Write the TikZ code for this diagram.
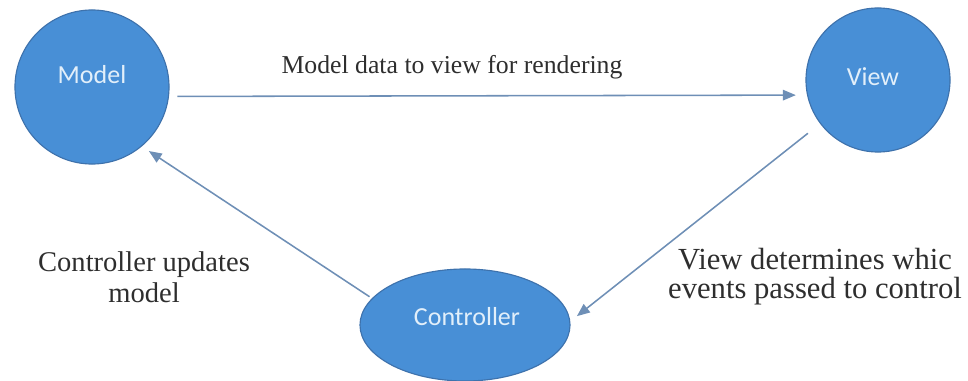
\documentclass[tikz,border=0pt]{standalone}
\usepackage{fontspec}
\setmainfont{Liberation Serif}
\newfontfamily\partfont{Carlito}
\usetikzlibrary{arrows}
\usetikzlibrary{shapes.geometric}
\definecolor{mvcblue}{RGB}{72,143,214}
\definecolor{mvcedge}{RGB}{62,114,172}
\definecolor{mvcline}{RGB}{110,143,182}
\definecolor{mvctext}{RGB}{226,239,250}
\tikzstyle{part}=[draw=mvcedge, fill=mvcblue, line width=.8pt, inner sep=0pt]
\tikzstyle{tag}=[text=mvctext, font=\partfont\fontsize{18.5}{20}\selectfont]
\tikzstyle{flow}=[draw=mvcline, line width=1.1pt, -triangle 45]
\tikzstyle{note}=[text=black!82, align=center, inner sep=0pt]

\begin{document}
\begin{tikzpicture}[x=0.025cm, y=-0.025cm]
    \useasboundingbox (0,0) rectangle (968,381);

    % the three parts
    \node[part, circle, minimum size=3.85cm] (model) at (92,87) {};
    \node[part, circle, minimum size=3.6cm] (view) at (878,80) {};
    \node[part, ellipse, minimum width=5.25cm, minimum height=2.8cm] (controller) at (465,325) {};
    \node[tag] (modeltag) at (92,75) {Model};
    \node[tag] (viewtag) at (873,77) {View};
    \node[tag] (controllertag) at (467,317) {Controller};

    % connectors
    \draw[flow, shorten <=6pt, shorten >=8pt] (model.-7) -- (view.-168);
    \draw[flow, shorten <=2pt, shorten >=6pt] (controller.164) -- (model.-50);
    \draw[flow, shorten <=11pt, shorten >=6pt] (view.-143) -- (controller.2);

    % texts
    \node[note, font=\fontsize{18.3}{21}\selectfont] (rendertxt) at (452,67) {Model data to view for rendering};
    \node[note, font=\fontsize{20.3}{22}\selectfont] (updatetxt) at (144,277) {Controller updates\\model};
    \node[note, font=\fontsize{21.8}{20.5}\selectfont] (eventtxt) at (815,277) {View determines whic\\events passed to control};
\end{tikzpicture}
\end{document}
